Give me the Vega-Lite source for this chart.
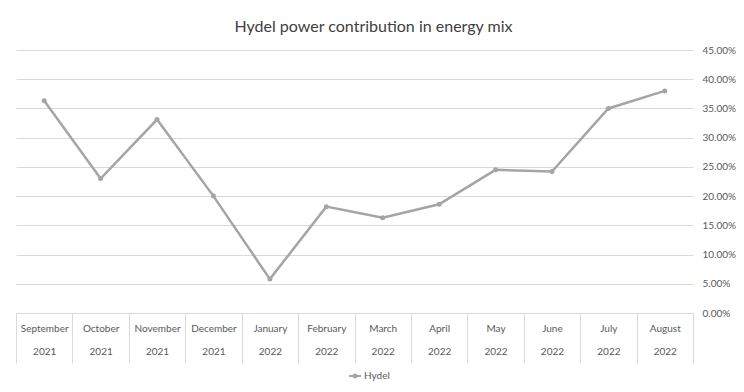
{
  "$schema": "https://vega.github.io/schema/vega-lite/v6.json",
  "width": 677,
  "height": 263,
  "autosize": {"type": "none"},
  "padding": {"left": 16, "top": 50, "right": 51, "bottom": 79},
  "background": "white",
  "title": {
    "text": "Hydel power contribution in energy mix",
    "font": "Lato",
    "fontSize": 16,
    "fontWeight": "normal",
    "color": "#404040",
    "anchor": "middle",
    "dx": 19,
    "offset": 10
  },
  "data": {
    "values": [
      {"month": "September 2021", "series": "Hydel", "share": 0.363},
      {"month": "October 2021", "series": "Hydel", "share": 0.230},
      {"month": "November 2021", "series": "Hydel", "share": 0.331},
      {"month": "December 2021", "series": "Hydel", "share": 0.200},
      {"month": "January 2022", "series": "Hydel", "share": 0.058},
      {"month": "February 2022", "series": "Hydel", "share": 0.182},
      {"month": "March 2022", "series": "Hydel", "share": 0.163},
      {"month": "April 2022", "series": "Hydel", "share": 0.186},
      {"month": "May 2022", "series": "Hydel", "share": 0.245},
      {"month": "June 2022", "series": "Hydel", "share": 0.242},
      {"month": "July 2022", "series": "Hydel", "share": 0.350},
      {"month": "August 2022", "series": "Hydel", "share": 0.380}
    ]
  },
  "encoding": {
    "x": {
      "field": "month",
      "type": "ordinal",
      "sort": null,
      "bandPosition": 0.5,
      "scale": {"type": "band", "paddingInner": 0, "paddingOuter": 0},
      "axis": {
        "title": null,
        "labelAngle": 0,
        "labelExpr": "split(datum.label, ' ')",
        "labelLineHeight": 23,
        "labelFont": "Lato",
        "labelFontSize": 10,
        "labelColor": "#595959",
        "labelBaseline": "top",
        "labelPadding": -40,
        "tickBand": "extent",
        "tickSize": 50,
        "tickColor": "#d9d9d9",
        "tickWidth": 1,
        "domainColor": "#d9d9d9",
        "domainWidth": 1,
        "grid": false
      }
    },
    "y": {
      "field": "share",
      "type": "quantitative",
      "scale": {"domain": [0, 0.45], "nice": false},
      "axis": {
        "orient": "right",
        "title": null,
        "format": ".2%",
        "values": [0, 0.05, 0.1, 0.15, 0.2, 0.25, 0.3, 0.35, 0.4, 0.45],
        "ticks": false,
        "domain": false,
        "labelAlign": "left",
        "labelPadding": 9,
        "labelFont": "Lato",
        "labelFontSize": 10,
        "labelColor": "#595959",
        "gridColor": "#d9d9d9",
        "gridWidth": 1
      }
    },
    "color": {
      "field": "series",
      "type": "nominal",
      "scale": {"range": ["#a5a5a5"]},
      "legend": {
        "title": null,
        "orient": "none",
        "legendX": 332,
        "legendY": 319,
        "symbolType": "M-1,0L1,0M0.25,0A0.25,0.25,0,1,1,-0.25,0A0.25,0.25,0,1,1,0.25,0Z",
        "symbolSize": 144,
        "symbolStrokeWidth": 2,
        "symbolFillColor": "#a5a5a5",
        "symbolStrokeColor": "#a5a5a5",
        "labelFont": "Lato",
        "labelFontSize": 10,
        "labelColor": "#595959",
        "labelOffset": 2
      }
    }
  },
  "layer": [
    {"mark": {"type": "line", "strokeWidth": 2.5}},
    {"mark": {"type": "point", "filled": true, "size": 25, "opacity": 1}}
  ],
  "config": {
    "view": {"stroke": null}
  }
}
